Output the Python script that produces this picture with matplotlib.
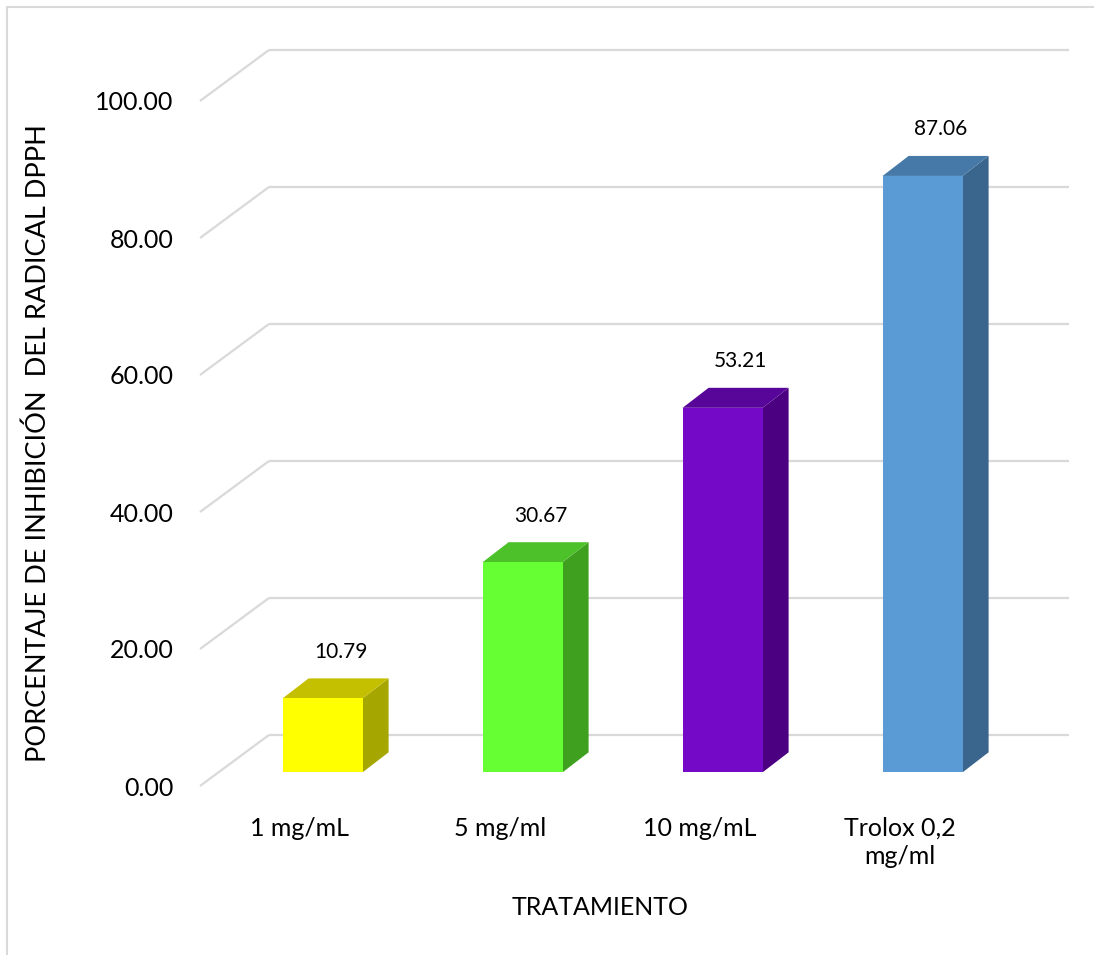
import matplotlib
matplotlib.use("Agg")
import matplotlib.pyplot as plt
from matplotlib.patches import Polygon, Rectangle

plt.rcParams['font.family'] = ['Lato', 'DejaVu Sans']

tratamientos = ['1 mg/mL', '5 mg/ml', '10 mg/mL', 'Trolox 0,2\nmg/ml']
inhibicion = [10.79, 30.67, 53.21, 87.06]
yticks = [0, 20, 40, 60, 80, 100]

front_colors = ['#ffff00', '#66ff33', '#7509c8', '#5b9bd5']
top_colors = ['#c4c000', '#4cc12a', '#580699', '#4679a8']
side_colors = ['#a6a600', '#3fa01f', '#4a0080', '#3a658c']

W, H = 1094, 955
fig = plt.figure(figsize=(W / 100, H / 100), dpi=100)
# front plane of the 3d box: x 200..1000 px, y 786..101 px
ax = fig.add_axes([200 / W, (H - 786) / H, 800 / W, 685 / H])
ax.set_xlim(0, 4)
ax.set_ylim(0, 100)
for s in ax.spines.values():
    s.set_visible(False)

# depth of the box and of the bars (in data units)
DX, DY = 0.345, 7.45
fx, fy = 0.113, 2.0      # bar front face offset from the front plane
ddx, ddy = 0.13, 2.92    # bar thickness
hw = 0.2                 # half width of a bar

grid_kw = dict(color='#d9d9d9', lw=1.6, clip_on=False, zorder=1, solid_capstyle='butt')
for v in yticks:
    ax.plot([0, DX], [v, v + DY], **grid_kw)
    ax.plot([DX, DX + 4], [v + DY, v + DY], **grid_kw)

for i, v in enumerate(inhibicion):
    x0 = i + 0.5 - hw + fx
    x1 = i + 0.5 + hw + fx
    b = fy
    t = fy + v
    front = Polygon([(x0, b), (x1, b), (x1, t), (x0, t)], closed=True,
                    fc=front_colors[i], ec='none', clip_on=False, zorder=3)
    top = Polygon([(x0, t), (x1, t), (x1 + ddx, t + ddy), (x0 + ddx, t + ddy)], closed=True,
                  fc=top_colors[i], ec='none', clip_on=False, zorder=3)
    side = Polygon([(x1, b), (x1 + ddx, b + ddy), (x1 + ddx, t + ddy), (x1, t)], closed=True,
                   fc=side_colors[i], ec='none', clip_on=False, zorder=3)
    for p in (side, top, front):
        ax.add_patch(p)
    ax.text(i + 0.5 + fx + 0.09, v + 8.8, '%.2f' % v, ha='center', va='center',
            fontsize=15, color='#000000', clip_on=False, zorder=4)

ax.set_yticks(yticks)
ax.set_yticklabels(['%.2f' % v for v in yticks], fontsize=18)
ax.set_xticks([i + 0.5 for i in range(len(tratamientos))])
ax.set_xticklabels(tratamientos, fontsize=18, linespacing=1.3, va='top')
ax.tick_params(axis='y', length=0, pad=19)
ax.tick_params(axis='x', length=0, pad=22)

ax.set_xlabel('TRATAMIENTO', fontsize=18, labelpad=20)
ax.set_ylabel('PORCENTAJE DE INHIBICIÓN  DEL RADICAL DPPH', fontsize=19.5, labelpad=32)

fig.add_artist(Rectangle((7 / W, -0.01), 1.2, 1 - 7 / H + 0.01, transform=fig.transFigure,
                         fill=False, ec='#d9d9d9', lw=1.5))

fig.savefig('out.png', dpi=100)
